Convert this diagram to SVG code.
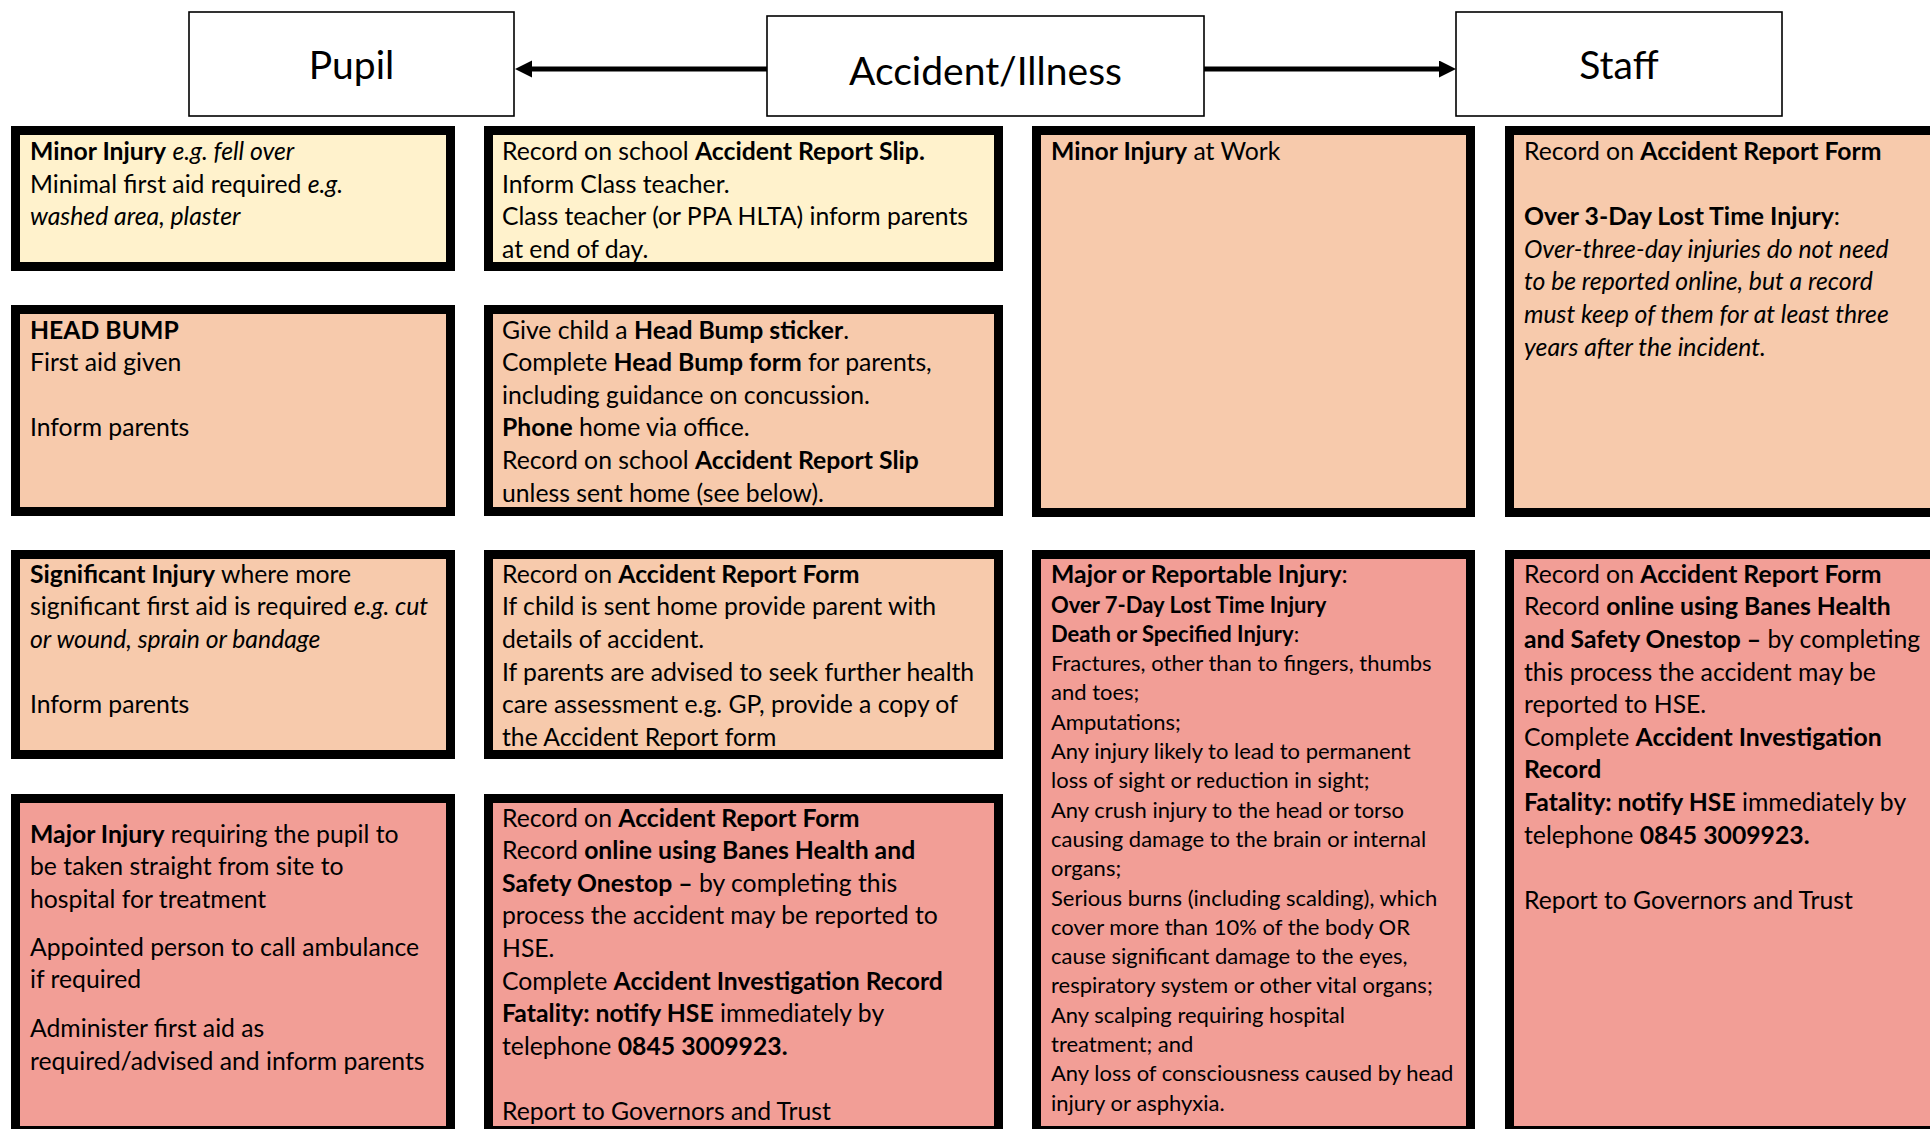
<svg xmlns="http://www.w3.org/2000/svg" width="1930" height="1129" viewBox="0 0 1930 1129">
<style>
  .hdr { fill: #ffffff; stroke: #000000; stroke-width: 1.6; }
  .box { stroke: #000000; stroke-width: 9; }
  .yel { fill: #FFF2CC; }
  .pch { fill: #F7CAAC; }
  .sal { fill: #F29E96; }
  text { font-family: Lato, "Liberation Sans", sans-serif; fill: #000000; }
  .t { font-size: 24.75px; }
  .s { font-size: 22px; }
  .title { font-size: 39px; text-anchor: middle; }
  .b { font-weight: bold; }
  .i { font-style: italic; }
  .conn { stroke: #000000; stroke-width: 5; fill: none; }
</style>
<defs>
  <marker id="arrow" markerUnits="userSpaceOnUse" markerWidth="18" markerHeight="18" refX="0" refY="8.5" orient="auto">
    <path d="M0,0 L17,8.5 L0,17 Z" fill="#000000"/>
  </marker>
</defs>
<rect x="0" y="0" width="1930" height="1129" fill="#ffffff"/>

<g id="connectors">
  <line class="conn" x1="767" y1="69" x2="532" y2="69" marker-end="url(#arrow)"/>
  <line class="conn" x1="1204" y1="69" x2="1439" y2="69" marker-end="url(#arrow)"/>
</g>

<g id="node-pupil">
  <rect class="hdr" x="189" y="12" width="325" height="104"/>
  <text class="title" x="351.5" y="79">Pupil</text>
</g>
<g id="node-accident">
  <rect class="hdr" x="767" y="16" width="437" height="100"/>
  <text class="title" x="985.5" y="85">Accident/Illness</text>
</g>
<g id="node-staff">
  <rect class="hdr" x="1456" y="12" width="326" height="104"/>
  <text class="title" x="1619" y="79">Staff</text>
</g>

<g id="node-minor-pupil">
  <rect class="box yel" x="15.5" y="130.5" width="435" height="136"/>
  <text class="t" x="30" y="160"><tspan class="b">Minor Injury</tspan> <tspan class="i">e.g. fell over</tspan></text>
  <text class="t" x="30" y="192.6">Minimal first aid required <tspan class="i">e.g.</tspan></text>
  <text class="t i" x="30" y="225.2">washed area, plaster</text>
</g>
<g id="node-minor-pupil-action">
  <rect class="box yel" x="488.5" y="130.5" width="510" height="136"/>
  <text class="t" x="502" y="160">Record on school <tspan class="b">Accident Report Slip.</tspan></text>
  <text class="t" x="502" y="192.6">Inform Class teacher.</text>
  <text class="t" x="502" y="225.2">Class teacher (or PPA HLTA) inform parents</text>
  <text class="t" x="502" y="257.8">at end of day.</text>
</g>

<g id="node-headbump">
  <rect class="box pch" x="15.5" y="309.5" width="435" height="202"/>
  <text class="t b" x="30" y="338.5">HEAD BUMP</text>
  <text class="t" x="30" y="371.1">First aid given</text>
  <text class="t" x="30" y="436.3">Inform parents</text>
</g>
<g id="node-headbump-action">
  <rect class="box pch" x="488.5" y="309.5" width="510" height="202"/>
  <text class="t" x="502" y="338.5">Give child a <tspan class="b">Head Bump sticker</tspan>.</text>
  <text class="t" x="502" y="371.1">Complete <tspan class="b">Head Bump form</tspan> for parents,</text>
  <text class="t" x="502" y="403.7">including guidance on concussion.</text>
  <text class="t" x="502" y="436.3"><tspan class="b">Phone</tspan> home via office.</text>
  <text class="t" x="502" y="468.9">Record on school <tspan class="b">Accident Report Slip</tspan></text>
  <text class="t" x="502" y="501.5">unless sent home (see below).</text>
</g>

<g id="node-significant">
  <rect class="box pch" x="15.5" y="554.5" width="435" height="200"/>
  <text class="t" x="30" y="582.8"><tspan class="b">Significant Injury</tspan> where more</text>
  <text class="t" x="30" y="615.4">significant first aid is required <tspan class="i">e.g. cut</tspan></text>
  <text class="t i" x="30" y="648">or wound, sprain or bandage</text>
  <text class="t" x="30" y="713.2">Inform parents</text>
</g>
<g id="node-significant-action">
  <rect class="box pch" x="488.5" y="554.5" width="510" height="200"/>
  <text class="t" x="502" y="582.8">Record on <tspan class="b">Accident Report Form</tspan></text>
  <text class="t" x="502" y="615.4">If child is sent home provide parent with</text>
  <text class="t" x="502" y="648">details of accident.</text>
  <text class="t" x="502" y="680.6">If parents are advised to seek further health</text>
  <text class="t" x="502" y="713.2">care assessment e.g. GP, provide a copy of</text>
  <text class="t" x="502" y="745.8">the Accident Report form</text>
</g>

<g id="node-major-pupil">
  <rect class="box sal" x="15.5" y="798.5" width="435" height="332"/>
  <text class="t" x="30" y="842.6"><tspan class="b">Major Injury</tspan> requiring the pupil to</text>
  <text class="t" x="30" y="875.2">be taken straight from site to</text>
  <text class="t" x="30" y="907.8">hospital for treatment</text>
  <text class="t" x="30" y="955.8">Appointed person to call ambulance</text>
  <text class="t" x="30" y="988.4">if required</text>
  <text class="t" x="30" y="1037">Administer first aid as</text>
  <text class="t" x="30" y="1069.6">required/advised and inform parents</text>
</g>
<g id="node-major-pupil-action">
  <rect class="box sal" x="488.5" y="798.5" width="510" height="332"/>
  <text class="t" x="502" y="826.6">Record on <tspan class="b">Accident Report Form</tspan></text>
  <text class="t" x="502" y="859.2">Record <tspan class="b">online using Banes Health and</tspan></text>
  <text class="t" x="502" y="891.8"><tspan class="b">Safety Onestop –</tspan> by completing this</text>
  <text class="t" x="502" y="924.4">process the accident may be reported to</text>
  <text class="t" x="502" y="957">HSE.</text>
  <text class="t" x="502" y="989.6">Complete <tspan class="b">Accident Investigation Record</tspan></text>
  <text class="t" x="502" y="1022.2"><tspan class="b">Fatality: notify HSE</tspan> immediately by</text>
  <text class="t" x="502" y="1054.8">telephone <tspan class="b">0845 3009923.</tspan></text>
  <text class="t" x="502" y="1120">Report to Governors and Trust</text>
</g>

<g id="node-minor-staff">
  <rect class="box pch" x="1036.5" y="130.5" width="434" height="382"/>
  <text class="t" x="1051" y="160"><tspan class="b">Minor Injury</tspan> at Work</text>
</g>
<g id="node-minor-staff-action">
  <rect class="box pch" x="1509.5" y="130.5" width="600" height="382"/>
  <text class="t" x="1524" y="160">Record on <tspan class="b">Accident Report Form</tspan></text>
  <text class="t" x="1524" y="225.2"><tspan class="b">Over 3-Day Lost Time Injury</tspan>:</text>
  <text class="t i" x="1524" y="257.8">Over-three-day injuries do not need</text>
  <text class="t i" x="1524" y="290.4">to be reported online, but a record</text>
  <text class="t i" x="1524" y="323">must keep of them for at least three</text>
  <text class="t i" x="1524" y="355.6">years after the incident.</text>
</g>

<g id="node-major-staff">
  <rect class="box sal" x="1036.5" y="554.5" width="434" height="576"/>
  <text class="t" x="1051" y="582.8"><tspan class="b">Major or Reportable Injury</tspan>:</text>
  <text class="s b" x="1051" y="612.5">Over 7-Day Lost Time Injury</text>
  <text class="s" x="1051" y="641.8"><tspan class="b">Death or Specified Injury</tspan>:</text>
  <text class="s" x="1051" y="671.1">Fractures, other than to fingers, thumbs</text>
  <text class="s" x="1051" y="700.4">and toes;</text>
  <text class="s" x="1051" y="729.7">Amputations;</text>
  <text class="s" x="1051" y="759">Any injury likely to lead to permanent</text>
  <text class="s" x="1051" y="788.3">loss of sight or reduction in sight;</text>
  <text class="s" x="1051" y="817.6">Any crush injury to the head or torso</text>
  <text class="s" x="1051" y="846.9">causing damage to the brain or internal</text>
  <text class="s" x="1051" y="876.2">organs;</text>
  <text class="s" x="1051" y="905.5">Serious burns (including scalding), which</text>
  <text class="s" x="1051" y="934.8">cover more than 10% of the body OR</text>
  <text class="s" x="1051" y="964.1">cause significant damage to the eyes,</text>
  <text class="s" x="1051" y="993.4">respiratory system or other vital organs;</text>
  <text class="s" x="1051" y="1022.7">Any scalping requiring hospital</text>
  <text class="s" x="1051" y="1052">treatment; and</text>
  <text class="s" x="1051" y="1081.3">Any loss of consciousness caused by head</text>
  <text class="s" x="1051" y="1110.6">injury or asphyxia.</text>
</g>
<g id="node-major-staff-action">
  <rect class="box sal" x="1509.5" y="554.5" width="600" height="576"/>
  <text class="t" x="1524" y="582.8">Record on <tspan class="b">Accident Report Form</tspan></text>
  <text class="t" x="1524" y="615.4">Record <tspan class="b">online using Banes Health</tspan></text>
  <text class="t" x="1524" y="648"><tspan class="b">and Safety Onestop –</tspan> by completing</text>
  <text class="t" x="1524" y="680.6">this process the accident may be</text>
  <text class="t" x="1524" y="713.2">reported to HSE.</text>
  <text class="t" x="1524" y="745.8">Complete <tspan class="b">Accident Investigation</tspan></text>
  <text class="t b" x="1524" y="778.4">Record</text>
  <text class="t" x="1524" y="811"><tspan class="b">Fatality: notify HSE</tspan> immediately by</text>
  <text class="t" x="1524" y="843.6">telephone <tspan class="b">0845 3009923.</tspan></text>
  <text class="t" x="1524" y="908.8">Report to Governors and Trust</text>
</g>
</svg>
